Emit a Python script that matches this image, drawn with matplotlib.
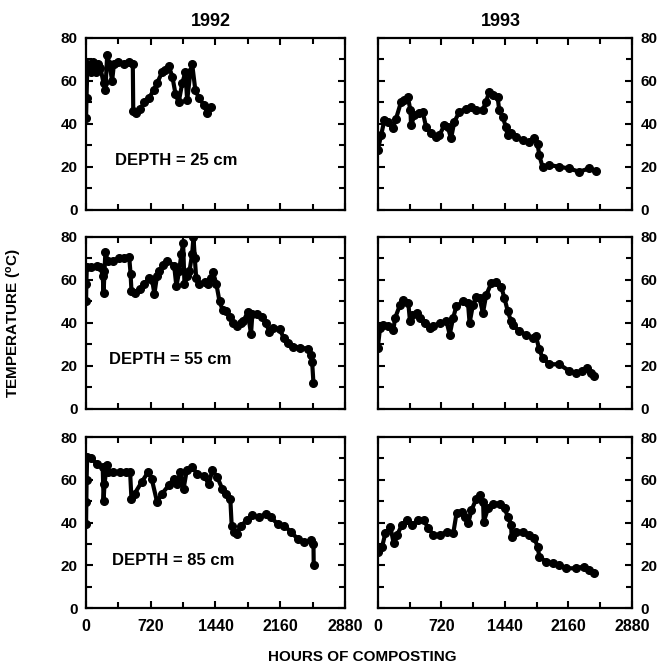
import numpy as np
import matplotlib.pyplot as plt
from matplotlib.ticker import MultipleLocator

plt.rcParams['font.family'] = ['Liberation Sans', 'DejaVu Sans']
plt.rcParams['font.weight'] = 'bold'
plt.rcParams['mathtext.default'] = 'regular'

# 1992, depth 25 cm
hrs_92_25 = [0, 5, 15, 50, 80, 105, 135, 160, 195, 215, 235, 260, 290, 310, 360,
             420, 480, 520, 525, 550, 600, 650, 700, 755, 790, 845, 880, 920, 960,
             995, 1030, 1070, 1105, 1125, 1160, 1180, 1215, 1255, 1310, 1350, 1385]
temp_92_25 = [43, 52, 68, 64, 69, 64, 68, 66, 59, 56, 72, 68, 60, 68, 69,
              68, 69, 68, 46, 45, 47, 50, 52, 56, 59, 64, 65, 67, 62,
              54, 50, 59, 64, 51, 64, 68, 56, 52, 49, 45, 48]

# 1992, depth 55 cm
hrs_92_55 = [0, 3, 8, 60, 120, 160, 185, 195, 205, 215, 240, 300, 370, 420, 480,
             495, 505, 540, 600, 650, 700, 735, 760, 790, 815, 860, 900, 980, 1005,
             1035, 1060, 1080, 1095, 1125, 1150, 1180, 1195, 1210, 1225, 1260, 1320,
             1360, 1395, 1413, 1450, 1485, 1520, 1560, 1600, 1640, 1675, 1720, 1750,
             1800, 1835, 1850, 1900, 1960, 2000, 2040, 2080, 2155, 2200, 2250, 2300,
             2380, 2470, 2500, 2515, 2530]
temp_92_55 = [50, 58, 66, 66, 66.7, 66, 62, 54, 64, 73, 69, 69, 70, 70, 70.6,
              63, 55, 54, 56, 58, 61, 60, 53.5, 62, 64, 67, 69, 66.7, 57,
              64, 72, 77, 58, 62, 64, 72, 80, 70, 61, 58, 59,
              58, 61, 63.6, 58, 50, 46, 45.7, 43, 40, 38.7, 40, 41,
              45, 34.8, 44, 44, 42.6, 40, 36, 37.6, 37, 33, 30.5, 29,
              28.5, 28, 25, 22, 12]

# 1992, depth 85 cm
hrs_92_85 = [0, 3, 6, 12, 60, 120, 185, 195, 205, 230, 248, 300, 380, 440, 490,
             505, 540, 620, 690, 730, 790, 845, 920, 975, 1010, 1050, 1085, 1120,
             1180, 1235, 1310, 1365, 1405, 1460, 1515, 1555, 1605, 1620, 1645, 1680,
             1720, 1795, 1850, 1925, 2000, 2055, 2130, 2205, 2280, 2355, 2430, 2500,
             2530, 2533]
temp_92_85 = [39.5, 49.6, 60, 70.6, 70, 67.5, 66, 50.3, 58, 66.7, 63.6, 63.6, 63.6, 63.6, 63.6,
              51, 53.5, 59, 63.6, 60.5, 49.6, 53.5, 57.4, 60.5, 58, 63.6, 55.8, 64.4,
              66, 62.8, 62, 58, 64.4, 61.2, 55.8, 53.5, 51, 38.6, 35.5, 34.7,
              38.6, 41, 43.3, 42.5, 44, 42.5, 39.4, 38.6, 35.5, 32.4, 30.8, 31.6,
              30, 20]

# 1993, depth 25 cm
hrs_93_25 = [0, 38, 75, 113, 170, 207, 264, 302, 340, 370, 377, 415, 470, 509, 547,
             603, 660, 698, 754, 792, 830, 867, 924, 1000, 1056, 1112, 1188, 1225,
             1263, 1300, 1357, 1376, 1414, 1451, 1470, 1508, 1565, 1640, 1715, 1772,
             1810, 1829, 1866, 1942, 2055, 2168, 2281, 2394, 2469]
temp_93_25 = [27.8, 34.8, 41.8, 41, 37.9, 42.5, 50.3, 51, 52.6, 46.4, 39.4, 44, 44.9, 45.6, 38.7,
              35.6, 34, 34.8, 39.4, 38.7, 33.3, 41, 45.6, 47.2, 48, 46.4, 46.4, 50.3,
              54.9, 53.4, 52.6, 46.4, 43.3, 38.7, 34.8, 35.6, 34, 32.5, 31.7, 33.3,
              30.9, 25.5, 20.1, 20.9, 20.1, 19.3, 17.8, 19.3, 18.1]

# 1993, depth 55 cm
hrs_93_55 = [0, 26, 64, 120, 177, 196, 252, 290, 346, 365, 383, 440, 477, 534, 590,
             628, 703, 778, 815, 853, 890, 965, 1022, 1040, 1078, 1116, 1153, 1191,
             1228, 1285, 1341, 1398, 1435, 1473, 1510, 1529, 1604, 1679, 1754, 1792,
             1829, 1867, 1942, 2055, 2168, 2243, 2318, 2374, 2412, 2450]
temp_93_55 = [28.5, 37.7, 39.2, 38.5, 36.9, 42.3, 48.4, 50.8, 49.2, 40.8, 43.8, 44.6, 42.3, 40, 37.7,
              38.5, 40, 40.8, 34.6, 42.3, 47.7, 50, 49.2, 40, 48.4, 52.3, 51.5, 44.6,
              53, 58.4, 59.2, 56.9, 51.5, 45.4, 40.8, 39.2, 36.1, 34.6, 33, 33.8,
              27.7, 23.8, 20.8, 20.8, 17.7, 16.9, 17.7, 19.2, 16.9, 15.4]

# 1993, depth 85 cm
hrs_93_85 = [0, 49, 86, 143, 180, 218, 274, 330, 386, 461, 518, 574, 630, 705, 780,
             855, 892, 949, 986, 1024, 1061, 1118, 1155, 1193, 1200, 1249, 1305, 1380,
             1436, 1474, 1511, 1515, 1568, 1643, 1718, 1774, 1811, 1830, 1905, 1980,
             2055, 2130, 2243, 2336, 2393, 2449]
temp_93_85 = [26.4, 28.7, 35, 38, 30.3, 34.2, 38.8, 41.2, 38.8, 41.2, 41.2, 37.3, 34.2, 34.2, 35.7,
              35, 44.3, 45, 42.7, 39.6, 45.8, 51.2, 52.8, 49.7, 40.4, 46.6, 48.9, 48.9,
              46.6, 42.7, 38.8, 33.4, 35.7, 35.7, 34.2, 32.6, 28.7, 24, 21.7, 21,
              20.2, 18.6, 18.6, 19.4, 17.9, 16.3]

depths = ['DEPTH = 25 cm', 'DEPTH = 55 cm', 'DEPTH = 85 cm']
series_92 = [(hrs_92_25, temp_92_25), (hrs_92_55, temp_92_55), (hrs_92_85, temp_92_85)]
series_93 = [(hrs_93_25, temp_93_25), (hrs_93_55, temp_93_55), (hrs_93_85, temp_93_85)]
depth_pos = [(320, 23), (256, 23), (285, 22.3)]

fig = plt.figure(figsize=(6.57, 6.70), dpi=100)
rows = [(0.6866, 0.2567), (0.3896, 0.2567), (0.0925, 0.2552)]


def style(ax, side, bottom):
    ax.set_xlim(0, 2880)
    ax.set_ylim(0, 80)
    ax.xaxis.set_major_locator(MultipleLocator(720))
    ax.xaxis.set_minor_locator(MultipleLocator(360))
    ax.yaxis.set_major_locator(MultipleLocator(20))
    ax.yaxis.set_minor_locator(MultipleLocator(10))
    ax.tick_params(which='both', direction='in', top=True, right=True,
                   left=True, bottom=True, width=1.5)
    ax.tick_params(which='major', length=5)
    ax.tick_params(which='minor', length=4)
    ax.tick_params(axis='y', pad=6, labelsize=11,
                   labelleft=(side == 'left'), labelright=(side == 'right'))
    ax.tick_params(axis='x', pad=8, labelsize=11.5, labelbottom=bottom)
    for s in ax.spines.values():
        s.set_linewidth(1.6)


for i, (b, h) in enumerate(rows):
    ax = fig.add_axes([0.131, b, 0.394, h])
    style(ax, 'left', i == 2)
    hx, ty = series_92[i]
    ax.plot(hx, ty, '-o', color='k', lw=3, ms=5.5)
    ax.text(depth_pos[i][0], depth_pos[i][1], depths[i], fontsize=12,
            va='center', ha='left')

    ax2 = fig.add_axes([0.575, b, 0.387, h])
    style(ax2, 'right', i == 2)
    hx, ty = series_93[i]
    ax2.plot(hx, ty, '-o', color='k', lw=3, ms=5.5)

fig.text(0.321, 0.9676, '1992', fontsize=13, ha='center', va='center')
fig.text(0.763, 0.9676, '1993', fontsize=13, ha='center', va='center')
fig.text(0.0228, 0.518, r'TEMPERATURE ($^{o}$C)', fontsize=11,
         rotation=90, ha='center', va='center')
fig.text(0.551, 0.0194, 'HOURS OF COMPOSTING', fontsize=11, ha='center', va='center')

fig.savefig('out.png', dpi=100)
